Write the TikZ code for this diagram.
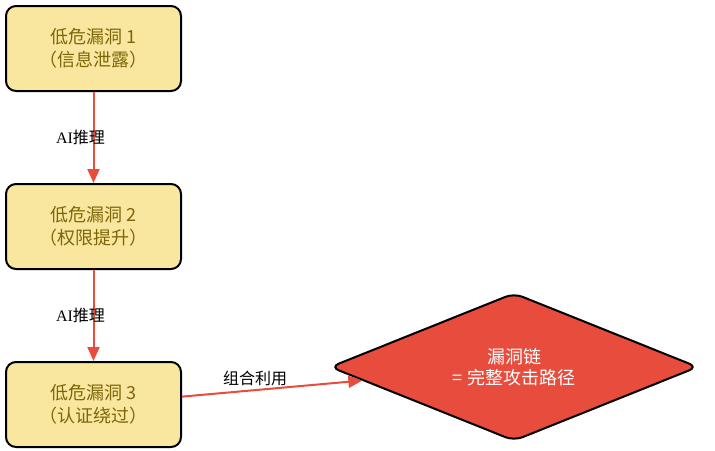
\documentclass[tikz,border=0pt]{standalone}
\usepackage{fontspec}
\setmainfont{Liberation Serif}
\newfontfamily\cjk{Noto Sans CJK SC}
\usetikzlibrary{positioning, shapes.geometric, arrows.meta}

\definecolor{vulnfill}{HTML}{F9E79F}
\definecolor{vulntext}{HTML}{7D6608}
\definecolor{chainred}{HTML}{E74C3C}

\tikzset{
  vuln/.style={draw=black, line width=2pt, rounded corners=10pt, fill=vulnfill,
    minimum width=175pt, minimum height=85pt, align=center,
    text=vulntext, font=\cjk\fontsize{18}{23}\selectfont},
  chain/.style={draw=black, line width=2pt, diamond, aspect=2.5, rounded corners=9pt,
    fill=chainred, minimum width=368pt, minimum height=148pt, inner sep=0pt,
    align=center, text=white, font=\cjk\fontsize{18}{21}\selectfont},
  link/.style={color=chainred, line width=2pt,
    -{Triangle[length=14pt,width=12pt,color=chainred]}},
  elabel/.style={font=\fontsize{16}{18}\selectfont, text=black, inner sep=1pt}
}

\begin{document}
\begin{tikzpicture}[x=1pt, y=-1pt]
  \useasboundingbox (0,0) rectangle (715,450);

  \node[vuln] (v1) at (93.5,48.5) {低危漏洞 1\\（信息泄露）};
  \node[vuln] (v2) [below=91pt of v1] {低危漏洞 2\\（权限提升）};
  \node[vuln] (v3) [below=91pt of v2] {低危漏洞 3\\（认证绕过）};
  \node[chain] (chain) at (514,367) {漏洞链\\= 完整攻击路径};

  \draw[link] (v1) -- node[elabel, xshift=-13pt] {AI{\cjk 推理}} (v2);
  \draw[link] (v2) -- node[elabel, xshift=-13pt] {AI{\cjk 推理}} (v3);
  \draw[link] (v3) -- node[elabel, above, xshift=-17pt, yshift=1pt] {\cjk 组合利用} (chain);
\end{tikzpicture}
\end{document}
